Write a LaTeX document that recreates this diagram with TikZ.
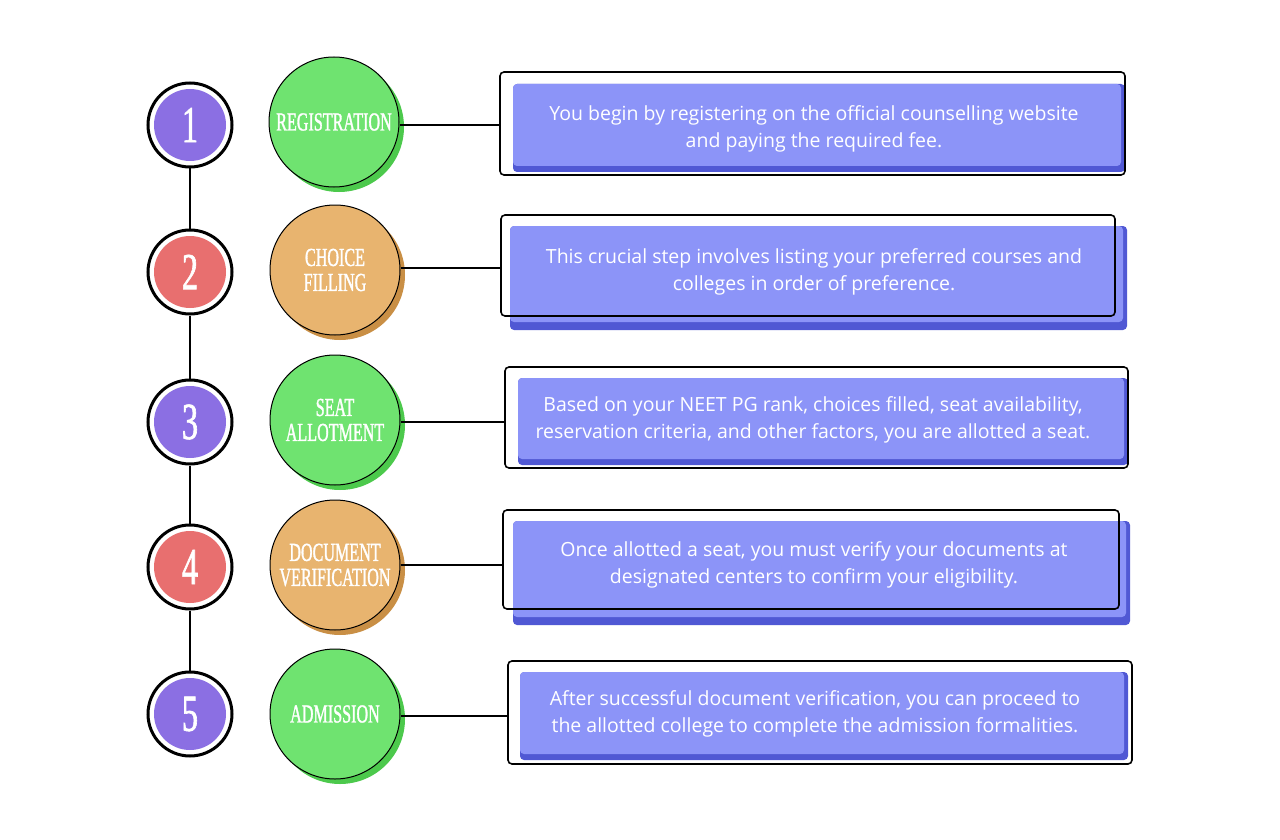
\documentclass[tikz,border=0pt]{standalone}
\usepackage{fontspec}
\setmainfont{Open Sans}
\newfontfamily\handfont[FakeStretch=0.62,FakeBold=1.2]{Liberation Serif}
\definecolor{numpurple}{HTML}{8B6FE3}
\definecolor{numred}{HTML}{E86F6F}
\definecolor{lgreen}{HTML}{6FE370}
\definecolor{lgreendk}{HTML}{4CC94C}
\definecolor{lorange}{HTML}{E8B46F}
\definecolor{lorangedk}{HTML}{C98F45}
\definecolor{boxblue}{HTML}{8C94F8}
\definecolor{boxbluedk}{HTML}{5058D4}
\tikzset{
  numring/.style={circle,draw=black,line width=3pt,fill=white,minimum size=84pt,inner sep=0pt},
  numfill/.style={circle,fill=#1,minimum size=72pt,inner sep=0pt,text=white,font=\handfont\fontsize{52}{52}\selectfont},
  lblshadow/.style={circle,fill=#1,minimum size=130pt,inner sep=0pt},
  lblcircle/.style={circle,fill=#1,draw=black,line width=1pt,minimum size=130pt,inner sep=0pt,text=white,align=center,font=\handfont\fontsize{26}{25}\selectfont},
  outlinebox/.style={draw=black,line width=1.6pt,rounded corners=4pt},
  bodytext/.style={text=white,align=center,font=\fontsize{19.5}{27}\selectfont},
  link/.style={draw=black,line width=2pt}
}
\begin{document}
\begin{tikzpicture}[x=1pt,y=-1pt]
\useasboundingbox (0,0) rectangle (1280,840);
\fill[white] (0,0) rectangle (1280,840);

% ---------- number circles ----------
\node[numring] (n1) at (190,125) {};
\node[numfill=numpurple] (f1) at (190,125) {1};
\node[numring] (n2) at (190,272) {};
\node[numfill=numred] (f2) at (190,272) {2};
\node[numring] (n3) at (190,422) {};
\node[numfill=numpurple] (f3) at (190,422) {3};
\node[numring] (n4) at (190,567) {};
\node[numfill=numred] (f4) at (190,567) {4};
\node[numring] (n5) at (190,714) {};
\node[numfill=numpurple] (f5) at (190,714) {5};
\draw[link] (n1.south) -- (n2.north);
\draw[link] (n2.south) -- (n3.north);
\draw[link] (n3.south) -- (n4.north);
\draw[link] (n4.south) -- (n5.north);

% ---------- label circles ----------
\node[lblshadow=lgreendk] (s1) at (339,127) {};
\node[lblcircle=lgreen] (l1) at (334,122) {REGISTRATION};
\node[lblshadow=lorangedk] (s2) at (340,275) {};
\node[lblcircle=lorange] (l2) at (335,270) {CHOICE\\FILLING};
\node[lblshadow=lgreendk] (s3) at (340,425) {};
\node[lblcircle=lgreen] (l3) at (335,420) {SEAT\\ALLOTMENT};
\node[lblshadow=lorangedk] (s4) at (340,570) {};
\node[lblcircle=lorange] (l4) at (335,565) {DOCUMENT\\VERIFICATION};
\node[lblshadow=lgreendk] (s5) at (340,719) {};
\node[lblcircle=lgreen] (l5) at (335,714) {ADMISSION};

% ---------- boxes ----------
% row 1
\fill[boxbluedk,rounded corners=4pt] (513,84) rectangle (1125,172);
\fill[boxblue,rounded corners=4pt] (513,84) rectangle (1121,166);
\node[outlinebox,minimum width=625pt,minimum height=103pt] (b1) at (812.5,123.5) {};
\node[bodytext] (t1) at (814,129) {You begin by registering on the official counselling website\\and paying the required fee.};
% row 2
\fill[boxbluedk,rounded corners=4pt] (510,226) rectangle (1127,330);
\fill[boxblue,rounded corners=4pt] (510,226) rectangle (1123,322);
\node[outlinebox,minimum width=614pt,minimum height=101pt] (b2) at (808,265.5) {};
\node[bodytext] (t2) at (814,272) {This crucial step involves listing your preferred courses and\\colleges in order of preference.};
% row 3
\fill[boxbluedk,rounded corners=4pt] (518,378) rectangle (1128,465);
\fill[boxblue,rounded corners=4pt] (518,378) rectangle (1124,459);
\node[outlinebox,minimum width=623pt,minimum height=101pt] (b3) at (816.5,417.5) {};
\node[bodytext] (t3) at (813,420) {Based on your NEET PG rank, choices filled, seat availability,\\reservation criteria, and other factors, you are allotted a seat.};
% row 4
\fill[boxbluedk,rounded corners=4pt] (513,521) rectangle (1130,625);
\fill[boxblue,rounded corners=4pt] (513,521) rectangle (1126,617);
\node[outlinebox,minimum width=616pt,minimum height=99pt] (b4) at (811,559.5) {};
\node[bodytext] (t4) at (814,565) {Once allotted a seat, you must verify your documents at\\designated centers to confirm your eligibility.};
% row 5
\fill[boxbluedk,rounded corners=4pt] (520,672) rectangle (1128,760);
\fill[boxblue,rounded corners=4pt] (520,672) rectangle (1124,754);
\node[outlinebox,minimum width=624pt,minimum height=103pt] (b5) at (820,712.5) {};
\node[bodytext] (t5) at (815,714) {After successful document verification, you can proceed to\\the allotted college to complete the admission formalities.};

% ---------- connectors ----------
\draw[link] (l1.east |- 0,125) -- (b1.west |- 0,125);
\draw[link] (l2.east |- 0,268) -- (b2.west |- 0,268);
\draw[link] (l3.east |- 0,422) -- (b3.west |- 0,422);
\draw[link] (l4.east |- 0,565) -- (b4.west |- 0,565);
\draw[link] (l5.east |- 0,716) -- (b5.west |- 0,716);
\end{tikzpicture}
\end{document}
